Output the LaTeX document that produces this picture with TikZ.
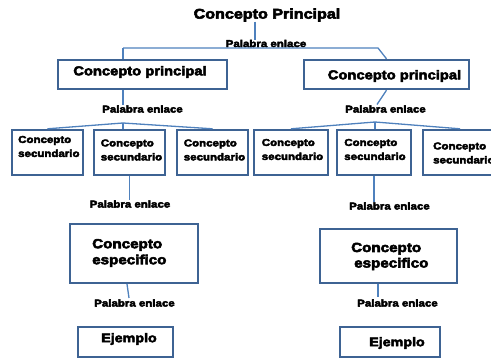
\documentclass[tikz,border=0pt]{standalone}
\usepackage{fontspec}
\newfontfamily\blk{Liberation Sans Bold}[FakeStretch=1.15,FakeBold=4]
\definecolor{boxblue}{HTML}{3E6393}
\definecolor{lineblue}{HTML}{4F81BD}
\begin{document}
\begin{tikzpicture}[x=1pt,y=-1pt,
  box/.style={draw=boxblue,line width=2.4pt,fill=white,minimum width=#1,inner sep=0pt},
  txt/.style={font=\blk,inner sep=0pt,text=black},
  link/.style={txt,font=\blk\fontsize{10}{12}\selectfont},
  conn/.style={draw=lineblue,line width=1.3pt},
  sec/.style={txt,font=\blk\fontsize{10}{14}\selectfont,align=left}]
\useasboundingbox (0,0) rectangle (491,358);
\clip (0,0) rectangle (491,358);
% boxes
\node[box=169pt,minimum height=29pt] (p1) at (142.5,74.5) {};
\node[box=165pt,minimum height=29pt] (p2) at (386.5,74.5) {};
\node[box=71pt,minimum height=45pt] (s1) at (47.5,152.5) {};
\node[box=71pt,minimum height=45pt] (s2) at (129.5,152.5) {};
\node[box=71pt,minimum height=45pt] (s3) at (212.5,152.5) {};
\node[box=74pt,minimum height=45pt] (s4) at (291,152.5) {};
\node[box=74pt,minimum height=45pt] (s5) at (374,152.5) {};
\node[box=74pt,minimum height=45pt] (s6) at (460,152.5) {};
\node[box=128pt,minimum height=59pt] (e1) at (134,253.5) {};
\node[box=137pt,minimum height=54pt] (e2) at (388.5,256) {};
\node[box=95pt,minimum height=30pt] (j1) at (125.5,342) {};
\node[box=100pt,minimum height=30pt] (j2) at (390,342) {};
% texts
\node[txt,font=\blk\fontsize{14}{16}\selectfont] (title) at (267,15) {Concepto Principal};
\node[link] (l0) at (266,43.5) {Palabra enlace};
\node[txt,font=\blk\fontsize{12.8}{15}\selectfont] (t1) at (140,72) {Concepto principal};
\node[txt,font=\blk\fontsize{12.8}{15}\selectfont] (t2) at (394.5,76) {Concepto principal};
\node[link] (l1) at (142.5,109) {Palabra enlace};
\node[link] (l2) at (385.5,109) {Palabra enlace};
\node[sec,anchor=west] (ts1) at (18,146.5) {Concepto\\secundario};
\node[sec] (ts2) at (131.5,150) {Concepto\\secundario};
\node[sec] (ts3) at (214.5,150) {Concepto\\secundario};
\node[sec] (ts4) at (292.5,149.5) {Concepto\\secundario};
\node[sec] (ts5) at (375,149.5) {Concepto\\secundario};
\node[sec,anchor=west] (ts6) at (433,153) {Concepto\\secundario};
\node[link] (l3) at (130,204) {Palabra enlace};
\node[link] (l4) at (389.5,206) {Palabra enlace};
\node[txt,font=\blk\fontsize{13.2}{16}\selectfont,align=left,anchor=west] (te1) at (92,253) {Concepto\\especifico};
\node[txt,font=\blk\fontsize{13.2}{15.5}\selectfont,align=left,anchor=west] (te2) at (351,256.5) {Concepto\\\hspace*{3pt}especifico};
\node[link] (l5) at (134.5,303) {Palabra enlace};
\node[link] (l6) at (397.5,303) {Palabra enlace};
\node[txt,font=\blk\fontsize{12.4}{15}\selectfont] (tj1) at (129,339) {Ejemplo};
\node[txt,font=\blk\fontsize{12.4}{15}\selectfont] (tj2) at (397,343) {Ejemplo};
% connector coordinates
\coordinate (f0) at (255,48);
\coordinate (fl) at (123,48);
\coordinate (fr) at (378,48);
\coordinate (a1) at (123,123);
\coordinate (a2) at (375,122);
\coordinate (c2) at (377,104.5);
\coordinate (c5a) at (127,284);
\coordinate (c5b) at (129,298);
\coordinate (c6) at (378,297);
% connectors
\draw[conn] (title.south -| f0) -- (l0.north -| f0);
\draw[conn] (fl) -- (fr) -- (p2.north);
\draw[conn] (fl) -- (fl |- p1.north);
\draw[conn] (p1.south -| fl) -- (l1.north -| fl);
\draw[conn] (p2.south) -- (c2);
\draw[conn] (a1) -- (s1.north);
\draw[conn] (a1) -- (a1 |- s2.north);
\draw[conn] (a1) -- (s3.north);
\draw[conn] (a2) -- (s4.north);
\draw[conn] (a2) -- (a2 |- s5.north);
\draw[conn] (a2) -- (s6.north);
\draw[conn] (s2.south) -- (l3.north -| s2.south);
\draw[conn] (s5.south) -- (l4.north -| s5.south);
\draw[conn] (c5a) -- (c5b);
\draw[conn] (e2.south -| c6) -- (c6);
\end{tikzpicture}
\end{document}
